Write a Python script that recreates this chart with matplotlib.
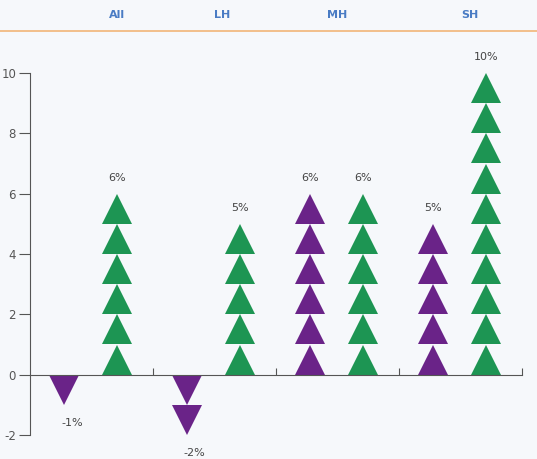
import matplotlib.pyplot as plt
from matplotlib.lines import Line2D

plt.rcParams['axes.unicode_minus'] = False

# data
groups = ['All', 'LH', 'MH', 'SH']
purple_vals = [-1, -2, 6, 5]
green_vals = [6, 5, 6, 10]
purple_labels = ['-1%', '-2%', '6%', '5%']
green_labels = ['6%', '5%', '6%', '10%']
yticks = [-2, 0, 2, 4, 6, 8, 10]

PURPLE = '#6a2388'
GREEN = '#1d9553'
BG = '#f6f8fb'

fig = plt.figure(figsize=(5.37, 4.59), dpi=100, facecolor=BG)
ax = fig.add_axes([30 / 537, 24 / 459, 492 / 537, 362 / 459])
ax.set_facecolor(BG)
ax.set_xlim(0, 4)
ax.set_ylim(-2, 10)


def stack(ax, x, v, color):
    n = abs(v)
    sign = 1 if v > 0 else -1
    marker = '^' if v > 0 else 'v'
    ys = [sign * (i + 0.5) for i in range(n)]
    ax.plot([x] * n, ys, linestyle='none', marker=marker, markersize=21,
            color=color, markeredgewidth=0, clip_on=False)


for g in range(len(groups)):
    xp = g + 0.28
    xg = g + 0.71
    stack(ax, xp, purple_vals[g], PURPLE)
    stack(ax, xg, green_vals[g], GREEN)
    # labels
    pv = purple_vals[g]
    if pv > 0:
        ax.text(xp, pv + 0.35, purple_labels[g], ha='center', va='bottom',
                fontsize=8, color='#444444')
    else:
        ax.text(xp + 0.06, pv - 0.6, purple_labels[g], ha='center', va='center',
                fontsize=8, color='#444444', clip_on=False)
    gv = green_vals[g]
    ax.text(xg, gv + 0.35, green_labels[g], ha='center', va='bottom',
            fontsize=8, color='#444444', clip_on=False)

# axes styling
for s in ['top', 'right']:
    ax.spines[s].set_visible(False)
ax.spines['bottom'].set_position(('data', 0))
ax.spines['bottom'].set_color('#555555')
ax.spines['left'].set_color('#555555')
ax.spines['left'].set_bounds(-2, 10)
ax.set_yticks(yticks)
ax.tick_params(axis='y', direction='out', length=8, color='#555555',
               labelcolor='#555555', labelsize=8.5, pad=2)
ax.set_xticks([1, 2, 3, 4])
ax.set_xticklabels([])
ax.tick_params(axis='x', direction='in', length=5, color='#555555')

# header
header_x = [117, 222, 337, 470]
for name, hx in zip(groups, header_x):
    fig.text(hx / 537, 1 - 15 / 459, name, ha='center', va='center',
             fontsize=8, color='#4a7cc4', fontweight='bold')
fig.add_artist(Line2D([0, 1], [1 - 31 / 459] * 2, color='#f2b577', lw=1.2,
                      transform=fig.transFigure))

fig.savefig('out.png', dpi=100, facecolor=BG)
